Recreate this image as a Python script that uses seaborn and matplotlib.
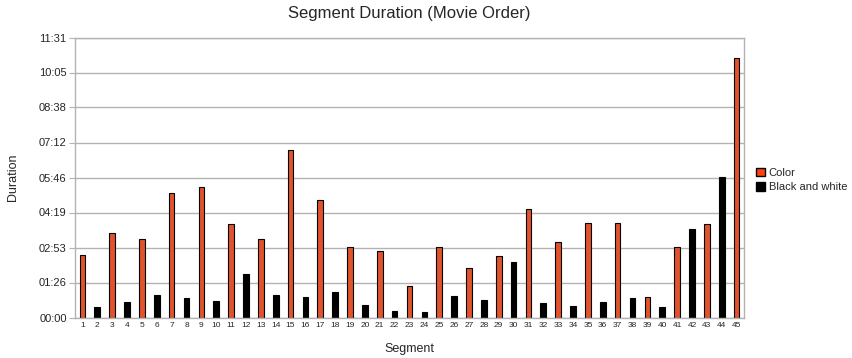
import pandas as pd
import matplotlib.pyplot as plt
import seaborn as sns
from matplotlib.patches import Patch

# segment durations in seconds
segments = list(range(1, 46))
durations = [154, 26, 208, 39, 193, 55, 307, 49, 322, 41,
             230, 108, 193, 55, 413, 50, 290, 63, 174, 31,
             164, 17, 77, 14, 174, 54, 122, 44, 152, 137,
             267, 36, 186, 29, 233, 39, 233, 49, 50, 26,
             174, 219, 230, 346, 640]
# odd segments are in colour, even ones in black and white
kinds = ['Color', 'Black and white'] * 22 + ['Color']

ytick_labels = ['00:00', '01:26', '02:53', '04:19', '05:46',
                '07:12', '08:38', '10:05', '11:31']

df = pd.DataFrame({'Segment': segments, 'Duration': durations, 'Kind': kinds})
palette = {'Color': '#ff420e', 'Black and white': '#000000'}

sns.set_style('white')
plt.rcParams['font.family'] = ['Liberation Sans', 'DejaVu Sans']

fig = plt.figure(figsize=(8.52, 3.58), dpi=100)
ax = fig.add_axes([75 / 852, 1 - 317.5 / 358, 669 / 852, 280 / 358])

sns.barplot(data=df, x='Segment', y='Duration', hue='Kind', palette=palette,
            dodge=False, width=0.38, edgecolor='black', linewidth=0.8,
            legend=False, ax=ax)

step = 86.4
ax.set_ylim(0, step * 8)
ax.set_yticks([i * step for i in range(9)])
ax.set_yticklabels(ytick_labels, fontsize=8)
ax.set_xlim(-0.5, 44.5)
ax.tick_params(axis='x', labelsize=6, length=0, pad=3)
ax.tick_params(axis='y', length=4, color='#b3b3b3', pad=2, left=True)
ax.yaxis.grid(True, color='#b3b3b3', linewidth=1)
ax.set_axisbelow(True)
for sp in ax.spines.values():
    sp.set_color('#b3b3b3')
    sp.set_linewidth(1)

ax.set_xlabel('Segment', fontsize=9, labelpad=10)
ax.set_ylabel('Duration', fontsize=9, labelpad=14)
ax.set_title('Segment Duration (Movie Order)', fontsize=12, pad=14)

handles = [Patch(facecolor=palette[k], edgecolor='black', label=k)
           for k in ['Color', 'Black and white']]
fig.legend(handles=handles, loc='center left', bbox_to_anchor=(752 / 852, 1 - 180 / 358),
           frameon=False, fontsize=8, handlelength=0.8, handleheight=0.8,
           handletextpad=0.3, labelspacing=0.4, borderaxespad=0)

fig.savefig('out.png', dpi=100)
